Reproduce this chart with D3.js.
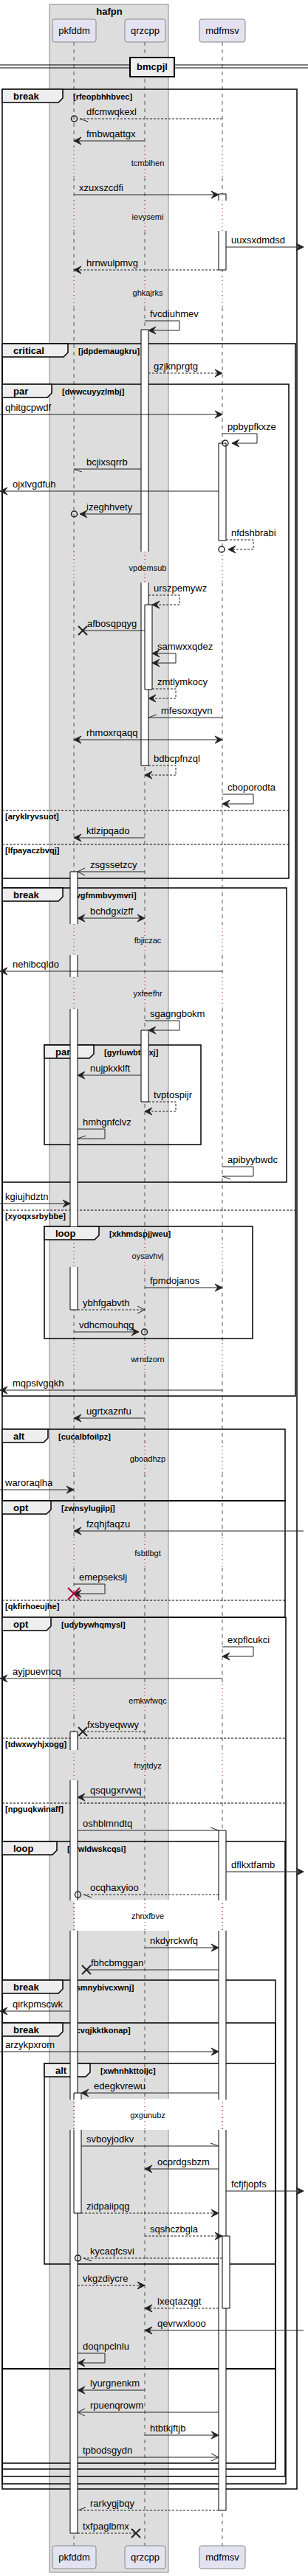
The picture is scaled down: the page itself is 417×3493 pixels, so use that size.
<!DOCTYPE html>
<html><head><meta charset="utf-8">
<script src="https://cdn.jsdelivr.net/npm/d3@7"></script>
<style>body{margin:0;background:#fff}text{font-family:"Liberation Sans",Arial,sans-serif}</style>
</head><body><svg id="c" width="417" height="3493"></svg>
<script>
// ---------- data ----------
const participants = ["pkfddm","qrzcpp","mdfmsv"];
const boxTitle = "hafpn";
const dividerLabel = "bmcpjl";
// messages: t = position on the time axis
const messages = [
 {t:161,f:"mdfmsv",to:"pkfddm",l:"dfcmwqkexl",d:1,h:"circleLow"},
 {t:191,f:"qrzcpp",to:"pkfddm",l:"fmbwqattgx",h:"filled"},
 {t:264,f:"pkfddm",to:"mdfmsv",l:"xzuxszcdfi",h:"filled",tb:-1},
 {t:335,f:"mdfmsv",to:"R",l:"uuxsxdmdsd",h:"filled",fb:1},
 {t:366,f:"mdfmsv",to:"pkfddm",l:"hrnwulpmvg",d:1,h:"filled",fb:-1},
 {t:435,self:"qrzcpp",l:"fvcdiuhmev",h:"filled",fb:0,tb:1,w:47},
 {t:506,f:"qrzcpp",to:"mdfmsv",l:"gzjknprgtg",d:1,h:"filled",fb:1},
 {t:562,f:"L",to:"mdfmsv",l:"qhitgcpwdf",h:"filled"},
 {t:588,self:"mdfmsv",l:"ppbypfkxze",h:"circle",fb:0,tb:1,w:47},
 {t:636,f:"qrzcpp",to:"pkfddm",l:"bcjixsqrrb",h:"halfLow",fb:-1},
 {t:666,f:"mdfmsv",to:"L",l:"ojxlvgdfuh",h:"filled",fb:-1},
 {t:697,f:"qrzcpp",to:"pkfddm",l:"izeghhvety",h:"circle",fb:-1},
 {t:732,self:"mdfmsv",l:"nfdshbrabi",d:1,h:"circle",fb:1,tb:0,w:42},
 {t:807,self:"qrzcpp",l:"urszpemywz",d:1,h:"filled",fb:1,tb:2,w:47},
 {t:855,f:"qrzcpp",to:"pkfddm",l:"afbosqpqyg",h:"x"},
 {t:886,self:"qrzcpp",l:"samwxxqdez",h:"both",fb:2,tb:2,w:42},
 {t:934,self:"qrzcpp",l:"zmtlymkocy",d:1,h:"filled",fb:2,tb:1,w:42},
 {t:973,f:"mdfmsv",to:"qrzcpp",l:"mfesoxqyvn",h:"halfUp",tb:1},
 {t:1003,f:"pkfddm",to:"mdfmsv",l:"rhmoxrqaqq",h:"both"},
 {t:1038,self:"qrzcpp",l:"bdbcpfnzql",d:1,h:"filled",fb:1,tb:0,w:42},
 {t:1077,self:"mdfmsv",l:"cboporodta",h:"filled",fb:0,tb:0,w:42},
 {t:1136,f:"qrzcpp",to:"pkfddm",l:"ktlzipqado",h:"filled"},
 {t:1182,f:"qrzcpp",to:"pkfddm",l:"zsgssetzcy",h:"open",tb:1},
 {t:1245,f:"pkfddm",to:"qrzcpp",l:"bchdgxizff",h:"both",fb:1},
 {t:1317,f:"mdfmsv",to:"L",l:"nehibcqldo",h:"filled"},
 {t:1384,self:"qrzcpp",l:"sgagngbokm",h:"filled",fb:0,tb:1,w:47},
 {t:1458,f:"qrzcpp",to:"pkfddm",l:"nujpkxklft",h:"filled",fb:-1,tb:1},
 {t:1494,self:"qrzcpp",l:"tvptospijr",d:1,h:"filled",fb:1,tb:0,w:42},
 {t:1531,self:"pkfddm",l:"hmhgnfclvz",h:"halfUp",fb:1,tb:1,w:42},
 {t:1582,self:"mdfmsv",l:"apibyybwdc",h:"halfLow",fb:0,tb:0,w:42},
 {t:1632,f:"L",to:"pkfddm",l:"kgiujhdztn",h:"filled",tb:-1},
 {t:1746,f:"qrzcpp",to:"mdfmsv",l:"fpmdojanos",h:"filled"},
 {t:1776,f:"pkfddm",to:"qrzcpp",l:"ybhfgabvth",d:1,h:"open",fb:1},
 {t:1806,f:"pkfddm",to:"qrzcpp",l:"vdhcmouhqg",h:"circle"},
 {t:1885,f:"mdfmsv",to:"L",l:"mqpsivgqkh",h:"filled"},
 {t:1923,f:"qrzcpp",to:"pkfddm",l:"ugrtxaznfu",h:"filled"},
 {t:2020,f:"L",to:"pkfddm",l:"waroraqlha",h:"filled"},
 {t:2076,f:"R",to:"pkfddm",l:"fzqhjfaqzu",h:"filled"},
 {t:2148,self:"pkfddm",l:"emepsekslj",h:"xred",fb:0,tb:0,w:42},
 {t:2233,self:"mdfmsv",l:"expflcukci",h:"filled",fb:0,tb:0,w:42},
 {t:2276,f:"mdfmsv",to:"L",l:"ayjpuevncq",h:"filled"},
 {t:2348,f:"qrzcpp",to:"pkfddm",l:"fxsbyeqwwy",d:1,h:"x"},
 {t:2437,f:"qrzcpp",to:"pkfddm",l:"qsqugxrvwq",h:"filled",tb:1},
 {t:2482,f:"pkfddm",to:"mdfmsv",l:"oshblmndtq",h:"halfUp",fb:1,tb:-1},
 {t:2538,f:"mdfmsv",to:"R",l:"dflkxtfamb",h:"filled",fb:1},
 {t:2569,f:"mdfmsv",to:"pkfddm",l:"ocqhaxyioo",d:1,h:"circleLow",fb:-1,tb:1},
 {t:2641,f:"qrzcpp",to:"mdfmsv",l:"nkdyrckwfq",h:"filled",tb:-1},
 {t:2671,f:"mdfmsv",to:"pkfddm",l:"fbhcbmggan",h:"x",fb:-1,tb:1},
 {t:2727,f:"pkfddm",to:"L",l:"qirkpmscwk",h:"filled",fb:-1},
 {t:2782,f:"L",to:"mdfmsv",l:"arzykpxrom",h:"filled",tb:-1},
 {t:2838,f:"mdfmsv",to:"pkfddm",l:"edegkvrewu",h:"filled",fb:-1,tb:2},
 {t:2910,f:"pkfddm",to:"mdfmsv",l:"svboyjodkv",h:"halfUp",fb:2,tb:-1},
 {t:2941,f:"mdfmsv",to:"qrzcpp",l:"ocprdgsbzm",h:"filled",fb:-1},
 {t:2971,f:"mdfmsv",to:"R",l:"fcfjfjopfs",h:"filled",fb:1},
 {t:3001,f:"pkfddm",to:"mdfmsv",l:"zidpaiipqg",d:1,h:"filled",fb:2,tb:-1},
 {t:3032,f:"qrzcpp",to:"mdfmsv",l:"sqshczbgla",d:1,h:"filled"},
 {t:3062,f:"mdfmsv",to:"pkfddm",l:"kycaqfcsvi",d:1,h:"circleLow",tb:1},
 {t:3099,f:"pkfddm",to:"qrzcpp",l:"vkgzdiycre",d:1,h:"filled",fb:1},
 {t:3130,f:"mdfmsv",to:"qrzcpp",l:"lxeqtazqgt",d:1,h:"filled",fb:-1},
 {t:3160,f:"R",to:"qrzcpp",l:"qevrwxlooo",h:"filled"},
 {t:3191,self:"pkfddm",l:"doqnpclnlu",h:"filled",fb:1,tb:1,w:42},
 {t:3241,f:"qrzcpp",to:"pkfddm",l:"lyurgnenkm",h:"filled",tb:1},
 {t:3271,f:"mdfmsv",to:"pkfddm",l:"rpuenqrowm",h:"open",fb:-1,tb:1},
 {t:3302,f:"qrzcpp",to:"mdfmsv",l:"htbtkjftjb",h:"filled",tb:-1},
 {t:3332,f:"pkfddm",to:"mdfmsv",l:"tpbodsgydn",h:"open",fb:1,tb:-1},
 {t:3404,f:"mdfmsv",to:"pkfddm",l:"rarkygjbqy",d:1,h:"halfUp",fb:-1,tb:1},
 {t:3435,f:"pkfddm",to:"qrzcpp",l:"txfpaglbmx",d:1,h:"x",fb:1}
];
const delays = [
 {t:221,l:"tcmblhen"},{t:294,l:"ievysemi"},{t:397,l:"ghkajrks"},{t:770,l:"vpdemsub"},
 {t:1275,l:"fbjiczac"},{t:1347,l:"yxfeefhr"},{t:1703,l:"oysavhvj"},{t:1843,l:"wrndzorn"},
 {t:1978,l:"gboadhzp"},{t:2106,l:"fsbtlbgt"},{t:2306,l:"emkwfwqc"},{t:2394,l:"fnyjtdyz"},
 {t:2598,l:"zhnxfbve",blank:1},{t:2868,l:"gxgunubz",blank:1}
];
// activations: participant, nesting level, start, end, caps
const activations = [
 {p:"mdfmsv",lv:0,a:263,b:272,ct:1},{p:"mdfmsv",lv:0,a:313,b:366,cb:1},
 {p:"qrzcpp",lv:0,a:447,b:748,ct:1},{p:"qrzcpp",lv:0,a:790,b:1038,cb:1},
 {p:"mdfmsv",lv:0,a:601,b:733,ct:1,cb:1},
 {p:"qrzcpp",lv:1,a:820,b:935,ct:1,cb:1},
 {p:"pkfddm",lv:0,a:1182,b:1253,ct:1},{p:"pkfddm",lv:0,a:1295,b:1325},
 {p:"pkfddm",lv:0,a:1368,b:1663},{p:"pkfddm",lv:0,a:1718,b:1776,cb:1},
 {p:"qrzcpp",lv:0,a:1397,b:1494,ct:1,cb:1},
 {p:"pkfddm",lv:0,a:2348,b:2373,ct:1},{p:"pkfddm",lv:0,a:2414,b:2577},
 {p:"pkfddm",lv:0,a:2618,b:2847},{p:"pkfddm",lv:0,a:2888,b:3435,cb:1},
 {p:"mdfmsv",lv:0,a:2482,b:2577,ct:1},{p:"mdfmsv",lv:0,a:2618,b:2847},
 {p:"mdfmsv",lv:0,a:2888,b:3404,cb:1},
 {p:"pkfddm",lv:1,a:2838,b:2847,ct:1},{p:"pkfddm",lv:1,a:2888,b:3001,cb:1},
 {p:"mdfmsv",lv:1,a:3032,b:3130,ct:1,cb:1}
];
const frames = [
 {k:"break",c:"[rfeopbhhbvec]",a:121,b:3375,i:0,r:402},
 {k:"critical",c:"[jdpdemaugkru]",a:466,b:1893,i:0,r:400},
 {k:"par",c:"[dwwcuyyzlmbj]",a:521,b:1191,i:0,r:391},
 {k:"break",c:"[vgfmmbvymvri]",a:1204,b:1603,i:0,r:388},
 {k:"par",c:"[gyrluwbtrgxj]",a:1417,b:1552,i:1,r:272},
 {k:"loop",c:"[xkhmdspjjweu]",a:1663,b:1815,i:1,r:342},
 {k:"alt",c:"[cucalbfoilpz]",a:1938,b:2035,i:0,r:386},
 {k:"opt",c:"[zwnsylugjipj]",a:2035,b:2193,i:0,r:386},
 {k:"opt",c:"[udybywhqmysl]",a:2193,b:3368,i:0,r:387},
 {k:"loop",c:"[nrwldwskcqsi]",a:2497,b:3358,i:0,r:386},
 {k:"break",c:"[smnybivcxwnj]",a:2685,b:3348,i:0,r:373},
 {k:"break",c:"[cvqjkktkonap]",a:2743,b:3340,i:0,r:373},
 {k:"alt",c:"[xwhnhkttoljc]",a:2798,b:3070,i:1,r:373}
];
const separators = [
 {t:1099,c:"[aryklryvsuot]",r:391},{t:1145,c:"[lfpayaczbvqj]",r:391},
 {t:1641,c:"[xyoqxsrbybbe]",r:400},{t:2170,c:"[qkfirhoeujhe]",r:386},
 {t:2357,c:"[tdwxwyhjxogg]",r:387},{t:2445,c:"[npguqkwinaff]",r:387},
 {t:3212,c:"",r:373,solid:1}
];

// ---------- scales ----------
const svg = d3.select("#c");
const y = d3.scaleLinear().domain([0,3493]).range([0,3493]);
const px = d3.scaleOrdinal().domain(participants.concat(["L","R"])).range([100,196,301,0,411]);
const AW = 5; // half activation width
const edgeX = (p,lv)=> (p==="L"||p==="R") ? px(p) : px(p) + (lv||0)*AW;
const pw = {pkfddm:[71,130],qrzcpp:[169,224],mdfmsv:[270,332]};
const tabW = {break:82,critical:89,par:67,loop:74,opt:66,alt:62};

// box
svg.append("rect").attr("x",67).attr("y",6).attr("width",161).attr("height",3482).attr("fill","#DDDDDD").attr("stroke","#888").attr("stroke-width",1);
svg.append("text").attr("x",148).attr("y",20).attr("text-anchor","middle").attr("font-weight","bold").attr("font-size",13).text(boxTitle);

// lifelines with delay segments
const dr = delays.map(d=>[y(d.t)-22,y(d.t)+20]);
participants.forEach(p=>{
  let s = 57;
  dr.forEach(([a,b])=>{
    svg.append("line").attr("x1",px(p)).attr("x2",px(p)).attr("y1",s).attr("y2",a).attr("stroke","#555").attr("stroke-dasharray","5,5");
    svg.append("line").attr("x1",px(p)).attr("x2",px(p)).attr("y1",a).attr("y2",b).attr("stroke","#A80036").attr("stroke-dasharray","1,4");
    s=b;
  });
  svg.append("line").attr("x1",px(p)).attr("x2",px(p)).attr("y1",s).attr("y2",3452).attr("stroke","#555").attr("stroke-dasharray","5,5");
});
delays.filter(d=>d.blank).forEach(d=>{
  svg.append("rect").attr("x",px("pkfddm")+1).attr("y",y(d.t)-22).attr("width",px("mdfmsv")-px("pkfddm")-2).attr("height",42).attr("fill","#fff");
  ["pkfddm","qrzcpp","mdfmsv"].forEach(p=>svg.append("line").attr("x1",px(p)).attr("x2",px(p)).attr("y1",y(d.t)-22).attr("y2",y(d.t)+20).attr("stroke","#A80036").attr("stroke-dasharray","1,4"));
});
delays.forEach(d=>svg.append("text").attr("x",200).attr("y",y(d.t)+4).attr("text-anchor","middle").attr("font-size",11).text(d.l));

// divider
[88,92].forEach(v=>svg.append("line").attr("x1",0).attr("x2",417).attr("y1",v).attr("y2",v).attr("stroke","#000"));
svg.append("rect").attr("x",176).attr("y",78).attr("width",60).attr("height",26).attr("fill","#EEEEEE").attr("stroke","#000").attr("stroke-width",2);
svg.append("text").attr("x",206).attr("y",95).attr("text-anchor","middle").attr("font-weight","bold").attr("font-size",13).text(dividerLabel);

// frames
frames.forEach(f=>{
  const x0 = f.i ? 60 : 3, ya=y(f.a), yb=y(f.b), tw=tabW[f.k];
  svg.append("rect").attr("x",x0).attr("y",ya).attr("width",f.r-x0).attr("height",yb-ya).attr("fill","none").attr("stroke","#000").attr("stroke-width",1.5);
  svg.append("path").attr("d",`M${x0},${ya}H${x0+tw}V${ya+12}L${x0+tw-6},${ya+18}H${x0}Z`).attr("fill","#EEEEEE").attr("stroke","#000").attr("stroke-width",1.5);
  svg.append("text").attr("x",x0+15).attr("y",ya+14).attr("font-weight","bold").attr("font-size",13).text(f.k);
  svg.append("text").attr("x",x0+tw+14).attr("y",ya+14).attr("font-weight","bold").attr("font-size",11).text(f.c);
});
separators.forEach(s=>{
  svg.append("line").attr("x1",3).attr("x2",s.r).attr("y1",y(s.t)).attr("y2",y(s.t)).attr("stroke","#000").attr("stroke-width",s.solid?2:1).attr("stroke-dasharray",s.solid?null:"3,2");
  if(s.c) svg.append("text").attr("x",7).attr("y",y(s.t)+12).attr("font-weight","bold").attr("font-size",11).text(s.c);
});

// activations
activations.forEach(a=>{
  const xl = px(a.p)-AW+a.lv*AW, xr=xl+2*AW, ya=y(a.a), yb=y(a.b);
  svg.append("rect").attr("x",xl).attr("y",ya).attr("width",2*AW).attr("height",yb-ya).attr("fill","#fff");
  let d=`M${xl},${ya}V${yb}M${xr},${ya}V${yb}`;
  if(a.ct) d+=`M${xl},${ya}H${xr}`; if(a.cb) d+=`M${xl},${yb}H${xr}`;
  svg.append("path").attr("d",d).attr("stroke","#000").attr("fill","none");
});

// participants
participants.forEach(p=>{
  [26,3452].forEach(t=>{
    svg.append("rect").attr("x",pw[p][0]).attr("y",t).attr("width",pw[p][1]-pw[p][0]).attr("height",31).attr("rx",3).attr("fill","#E2E2F0").attr("stroke","#888");
    svg.append("text").attr("x",(pw[p][0]+pw[p][1])/2).attr("y",t+20).attr("text-anchor","middle").attr("font-size",13).text(p);
  });
});

// arrow heads
function head(g,x,yy,dir,type,dotted){
  const s=(a,b)=>[x-dir*a,yy+b];
  if(type==="filled"||type==="xred"){
    g.append("path").attr("d","M"+[[x,yy],s(10,-5),s(6,0),s(10,5)].join("L")+"Z").attr("fill","#222").attr("stroke","#222");
  } else if(type==="open"){
    g.append("path").attr("d",`M${s(10,-5)}L${x},${yy}L${s(10,5)}`).attr("fill","none").attr("stroke","#222");
  } else if(type==="halfUp"){
    g.append("path").attr("d",`M${s(11,-4)}L${x},${yy}`).attr("stroke","#222");
  } else if(type==="halfLow"){
    g.append("path").attr("d",`M${s(11,4)}L${x},${yy}`).attr("stroke","#222");
  }
  if(type==="xred"){
    g.append("path").attr("d",`M${x-8},${yy-8}L${x+8},${yy+8}M${x-8},${yy+8}L${x+8},${yy-8}`).attr("stroke","#A80036").attr("stroke-width",2);
  }
}
function cross(g,x,yy){g.append("path").attr("d",`M${x-6},${yy-6}L${x+6},${yy+6}M${x-6},${yy+6}L${x+6},${yy-6}`).attr("stroke","#222").attr("stroke-width",2);}
function circ(g,x,yy){g.append("circle").attr("cx",x).attr("cy",yy).attr("r",4).attr("fill","none").attr("stroke","#222").attr("stroke-width",1.5);}

const mg = svg.append("g");
messages.forEach(m=>{
  const yy=y(m.t), dash=m.d?"3,2":null;
  if(m.self){
    const x1=edgeX(m.self,m.fb), x2=edgeX(m.self,m.tb), xo=px(m.self)+m.w, y2=yy+13;
    const ex = m.h==="circle" ? x2+8 : x2;
    mg.append("path").attr("d",`M${x1},${yy}H${xo}V${y2}H${ex}`).attr("fill","none").attr("stroke","#222").attr("stroke-dasharray",dash);
    if(m.h==="circle"){ head(mg,ex,y2,-1,"filled"); circ(mg,x2-1,y2); }
    else if(m.h==="both"){ head(mg,x1,yy,-1,"filled"); head(mg,x2,y2,-1,"filled"); }
    else head(mg,ex,y2,-1,m.h);
    mg.append("text").attr("x",x1+7).attr("y",yy-5).attr("font-size",13).text(m.l);
    return;
  }
  const x1=edgeX(m.f,m.fb), xt=edgeX(m.to,m.tb), dir = xt>x1?1:-1;
  let tip=xt;
  if(m.h==="circle"||m.h==="circleLow"){ tip = xt - dir*8; circ(mg,xt-dir*0.5,yy); }
  if(m.h==="x"){ tip = xt - dir*12; cross(mg,tip,yy); }
  mg.append("line").attr("x1",x1).attr("x2",tip).attr("y1",yy).attr("y2",yy).attr("stroke","#222").attr("stroke-dasharray",dash);
  if(m.h==="circle") head(mg,tip,yy,dir,"filled");
  else if(m.h==="circleLow") head(mg,tip,yy,dir,"halfLow");
  else if(m.h==="both"){ head(mg,tip,yy,dir,"filled"); head(mg,x1,yy,-dir,"filled"); }
  else if(m.h!=="x") head(mg,tip,yy,dir,m.h);
  let tx;
  if(dir>0) tx = x1 + (m.h==="both"?17:7);
  else tx = (m.h==="x"?tip+6:(m.h.startsWith("circle")?tip+9:tip+17));
  if(m.f==="L") tx=7;
  mg.append("text").attr("x",tx).attr("y",yy-5).attr("font-size",13).text(m.l);
});
</script></body></html>
